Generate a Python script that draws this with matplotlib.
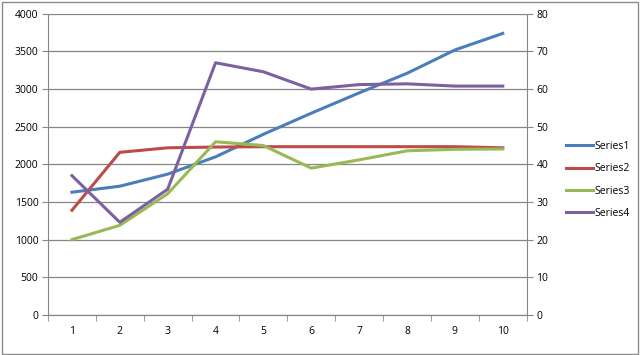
import matplotlib.pyplot as plt
from matplotlib.patches import Rectangle

plt.rcParams['font.family'] = ['Open Sans', 'DejaVu Sans']
plt.rcParams['font.size'] = 7.5

x = [1, 2, 3, 4, 5, 6, 7, 8, 9, 10]
series1 = [1630, 1710, 1870, 2100, 2400, 2680, 2950, 3210, 3520, 3740]
series2 = [1390, 2160, 2220, 2230, 2235, 2235, 2235, 2235, 2235, 2220]
series3 = [1000, 1190, 1610, 2300, 2250, 1950, 2060, 2180, 2200, 2205]
series4 = [37, 24.6, 33.4, 67, 64.6, 60, 61.2, 61.4, 60.8, 60.8]

fig = plt.figure(figsize=(6.4, 3.55), dpi=100)
fig.patches.append(Rectangle((0.003, 0.004), 0.994, 0.99, transform=fig.transFigure,
                             fill=False, edgecolor='#8c8c8c', linewidth=1))
ax = fig.add_axes([0.075, 0.113, 0.748, 0.848])
ax2 = ax.twinx()

l1, = ax.plot(x, series1, color='#4a7ebb', lw=2.2, label='Series1')
l2, = ax.plot(x, series2, color='#be4b48', lw=2.2, label='Series2')
l3, = ax.plot(x, series3, color='#98b954', lw=2.2, label='Series3')
l4, = ax2.plot(x, series4, color='#7d60a0', lw=2.2, label='Series4')

ax.set_xlim(0.5, 10.5)
ax.set_ylim(0, 4000)
ax.set_yticks(range(0, 4001, 500))
ax2.set_ylim(0, 80)
ax2.set_yticks(range(0, 81, 10))
ax.set_xticks(x)
ax.set_xticks([i + 0.5 for i in range(0, 11)], minor=True)

ax.grid(axis='y', color='#868686', linewidth=0.9)
ax.set_axisbelow(True)
for a in (ax, ax2):
    a.spines['top'].set_visible(False)
    a.spines['left'].set_color('#868686')
    a.spines['right'].set_color('#868686')
    a.spines['bottom'].set_color('#868686')
ax.spines['right'].set_visible(False)
ax2.spines['left'].set_visible(False)

ax.tick_params(axis='x', which='major', length=0, pad=8, colors='black')
ax.tick_params(axis='x', which='minor', length=4, color='#868686')
ax.tick_params(axis='y', length=4, color='#868686', pad=3)
ax2.tick_params(axis='y', length=4, color='#868686', pad=3)

fig.legend([l1, l2, l3, l4], ['Series1', 'Series2', 'Series3', 'Series4'],
           loc='upper left', bbox_to_anchor=(0.87, 0.63), frameon=False,
           handlelength=2.6, handletextpad=0.1, labelspacing=1.1, fontsize=7.5)

fig.savefig('out.png', dpi=100)
